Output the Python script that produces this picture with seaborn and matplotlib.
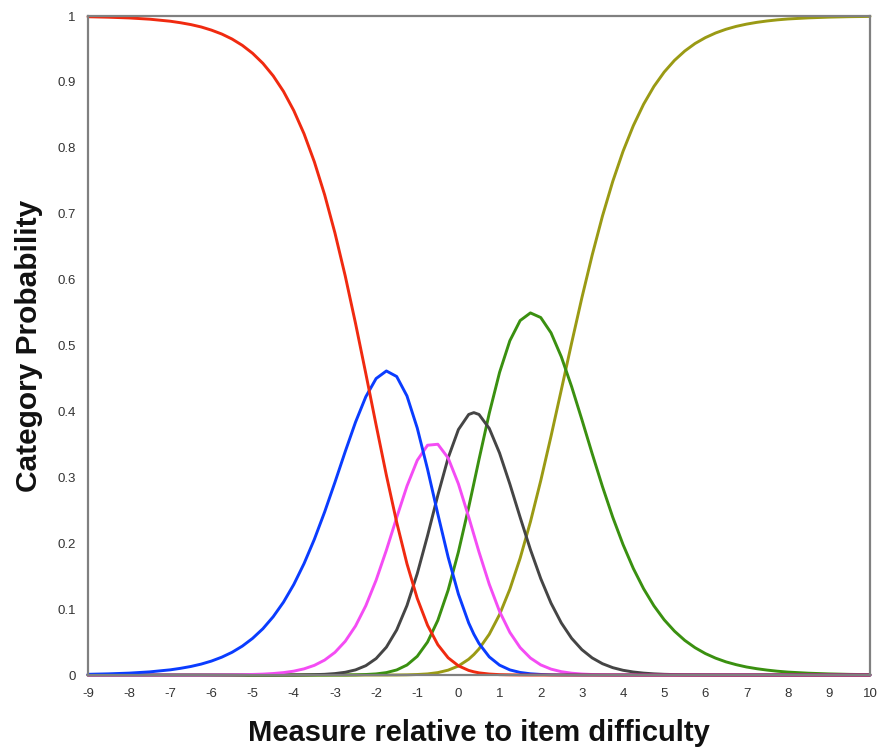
import matplotlib
matplotlib.use("Agg")
import matplotlib.pyplot as plt
import seaborn as sns
import pandas as pd

# Measure relative to item difficulty (logits)
x_vals = [-9, -8.5, -8, -7.5, -7,
          -6.75, -6.5, -6.25, -6,
          -5.75, -5.5, -5.25, -5,
          -4.75, -4.5, -4.25, -4,
          -3.75, -3.5, -3.25, -3,
          -2.75, -2.5, -2.25, -2,
          -1.75, -1.5, -1.25, -1,
          -0.75, -0.5, -0.25, 0,
          0.25, 0.375, 0.5, 0.75, 1,
          1.25, 1.5, 1.75, 2,
          2.25, 2.5, 2.75, 3,
          3.25, 3.5, 3.75, 4,
          4.25, 4.5, 4.75, 5,
          5.25, 5.5, 5.75, 6,
          6.25, 6.5, 6.75, 7,
          7.25, 7.5, 7.75, 8,
          8.5, 9, 9.5, 10]

# Category probability curves
cat0 = [.9989, .9982, .9971, .9952, .9921,
        .9898, .9870, .9834, .9786,
        .9727, .9651, .9555, .9434,
        .9282, .9092, .8856, .8565,
        .8212, .7787, .7287, .6708,
        .6056, .5337, .4575, .3795,
        .3031, .2318, .1688, .1163,
        .0755, .0460, .0262, .0140,
        .0070, .0049, .0033, .0015, .0006,
        .0003, .0001, 0, 0,
        0, 0, 0, 0,
        0, 0, 0, 0,
        0, 0, 0, 0,
        0, 0, 0, 0,
        0, 0, 0, 0,
        0, 0, 0, 0,
        0, 0, 0, 0]
cat1 = [.0011, .0018, .0029, .0048, .0079,
        .0102, .0130, .0166, .0212,
        .0271, .0345, .0439, .0557,
        .0703, .0885, .1106, .1374,
        .1692, .2060, .2475, .2925,
        .3391, .3837, .4223, .4499,
        .4614, .4530, .4235, .3748,
        .3124, .2443, .1790, .1228,
        .0790, .0620, .0479, .0275, .0150,
        .0078, .0039, .0019, .0009,
        .0004, .0002, .0001, 0,
        0, 0, 0, 0,
        0, 0, 0, 0,
        0, 0, 0, 0,
        0, 0, 0, 0,
        0, 0, 0, 0,
        0, 0, 0, 0]
cat2 = [0, 0, 0, 0, 0,
        0, 0, 0, .0001,
        .0002, .0003, .0005, .0009,
        .0014, .0023, .0037, .0059,
        .0094, .0147, .0227, .0344,
        .0512, .0744, .1052, .1439,
        .1895, .2389, .2867, .3258,
        .3487, .3502, .3294, .2901,
        .2398, .2132, .1868, .1377, .0965,
        .0647, .0416, .0258, .0154,
        .0090, .0051, .0028, .0015,
        .0008, .0004, .0002, .0001,
        .0001, 0, 0, 0,
        0, 0, 0, 0,
        0, 0, 0, 0,
        0, 0, 0, 0,
        0, 0, 0, 0]
cat3 = [0, 0, 0, 0, 0,
        0, 0, 0, 0,
        0, 0, 0, 0,
        0, 0, .0001, .0001,
        .0003, .0006, .0011, .0022,
        .0042, .0078, .0142, .0250,
        .0423, .0684, .1055, .1539,
        .2115, .2728, .3294, .3725,
        .3954, .3982, .3954, .3742, .3368,
        .2898, .2393, .1903, .1464,
        .1091, .0791, .0558, .0385,
        .0260, .0172, .0112, .0072,
        .0046, .0029, .0018, .0011,
        .0007, .0004, .0003, .0002,
        .0001, .0001, 0, 0,
        0, 0, 0, 0,
        0, 0, 0, 0]
cat4 = [0, 0, 0, 0, 0,
        0, 0, 0, 0,
        0, 0, 0, 0,
        0, 0, 0, 0,
        0, 0, 0, .0001,
        .0001, .0003, .0008, .0017,
        .0037, .0077, .0152, .0284,
        .0501, .0830, .1287, .1868,
        .2546, .2906, .3270, .3973, .4592,
        .5073, .5379, .5495, .5425,
        .5193, .4830, .4378, .3876,
        .3360, .2860, .2395, .1980,
        .1617, .1309, .1051, .0838,
        .0666, .0526, .0415, .0326,
        .0256, .0200, .0157, .0122,
        .0096, .0075, .0058, .0045,
        .0028, .0017, .0010, .0006]
cat5 = [0, 0, 0, 0, 0,
        0, 0, 0, 0,
        0, 0, 0, 0,
        0, 0, 0, 0,
        0, 0, 0, 0,
        0, 0, 0, 0,
        0, .0001, .0003, .0008,
        .0017, .0037, .0074, .0137,
        .0240, .0311, .0396, .0619, .0918,
        .1302, .1773, .2325, .2948,
        .3623, .4327, .5036, .5725,
        .6372, .6964, .7490, .7947,
        .8336, .8662, .8931, .9150,
        .9327, .9469, .9583, .9672,
        .9743, .9799, .9843, .9877,
        .9904, .9925, .9942, .9955,
        .9972, .9983, .9990, .9994]

categories = ["0", "1", "2", "3", "4", "5"]
colors = ["#f02a10", "#0a3cff", "#f44cf4", "#454545", "#3a9010", "#9a9a14"]
x_ticks = list(range(-9, 11))
y_ticks = [0, 0.1, 0.2, 0.3, 0.4, 0.5, 0.6, 0.7, 0.8, 0.9, 1]
y_tick_labels = ["0", "0.1", "0.2", "0.3", "0.4", "0.5", "0.6", "0.7", "0.8", "0.9", "1"]

series = [cat0, cat1, cat2, cat3, cat4, cat5]
frames = []
for name, vals in zip(categories, series):
    assert len(vals) == len(x_vals)
    frames.append(pd.DataFrame({"x": x_vals, "p": vals, "cat": name}))
df = pd.concat(frames, ignore_index=True)

sns.set_style("white")
plt.rcParams["font.family"] = ["Liberation Sans", "DejaVu Sans"]

fig = plt.figure(figsize=(8.88, 7.56), dpi=100)
ax = fig.add_axes([0.0991, 0.1071, 0.8806, 0.8717])

palette = dict(zip(categories, colors))
sns.lineplot(data=df, x="x", y="p", hue="cat", hue_order=categories[::-1],
             palette=palette, linewidth=2.1, legend=False, ax=ax,
             sort=True, estimator=None)
for ln in ax.get_lines():
    ln.set_clip_on(False)
    ln.set_solid_joinstyle("round")

ax.set_xlim(-9, 10)
ax.set_ylim(0, 1)
tick_family = ["Liberation Sans Narrow", "Liberation Sans", "DejaVu Sans"]
ax.set_xticks(x_ticks)
ax.set_xticklabels([str(t) for t in x_ticks], fontsize=9.5, color="#333333", family=tick_family)
ax.set_yticks(y_ticks)
ax.set_yticklabels(y_tick_labels, fontsize=9.5, color="#333333", family=tick_family)
ax.tick_params(axis="both", direction="inout", length=8, width=1.2, color="#333333", pad=5)

for sp in ax.spines.values():
    sp.set_color("#808080")
    sp.set_linewidth(1.6)
    sp.set_visible(True)

ax.set_xlabel("Measure relative to item difficulty", fontsize=21, fontweight="bold",
              labelpad=14, color="#111111")
ax.set_ylabel("Category Probability", fontsize=21.5, fontweight="bold",
              labelpad=10, color="#111111")

fig.savefig("out.png", dpi=100, facecolor="white")
